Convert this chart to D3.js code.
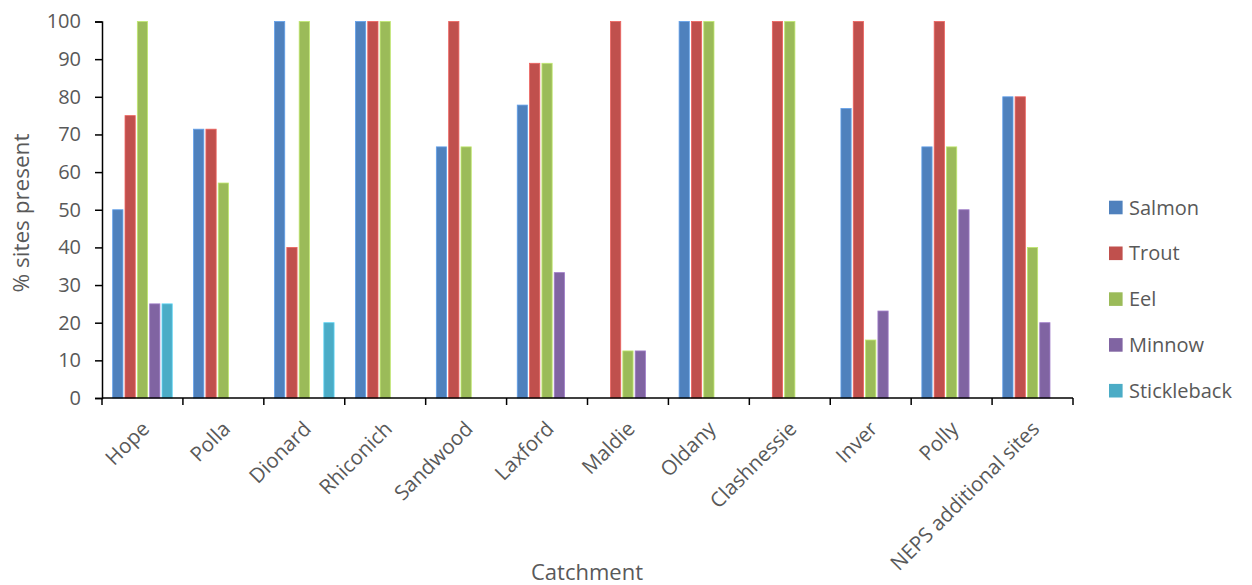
<!DOCTYPE html>
<html>
<head>
<meta charset="utf-8">
<script src="https://cdn.jsdelivr.net/npm/d3@7"></script>
<style>
  html, body { margin: 0; padding: 0; background: #fff; }
  svg { display: block; }
  text { font-family: "Open Sans", "Noto Sans", sans-serif; fill: #595959; }
</style>
</head>
<body>
<svg id="chart" width="1252" height="585"></svg>
<script>
const categories = ["Hope", "Polla", "Dionard", "Rhiconich", "Sandwood", "Laxford",
  "Maldie", "Oldany", "Clashnessie", "Inver", "Polly", "NEPS additional sites"];
const seriesNames = ["Salmon", "Trout", "Eel", "Minnow", "Stickleback"];
const salmon      = [50, 71.4, 100, 100, 66.7, 77.8, 0, 100, 0, 76.9, 66.7, 80];
const trout       = [75, 71.4, 40, 100, 100, 88.9, 100, 100, 100, 100, 100, 80];
const eel         = [100, 57.1, 100, 100, 66.7, 88.9, 12.5, 100, 100, 15.4, 66.7, 40];
const minnow      = [25, 0, 0, 0, 0, 33.3, 12.5, 0, 0, 23.1, 50, 20];
const stickleback = [25, 0, 20, 0, 0, 0, 0, 0, 0, 0, 0, 0];
const yTicks = [0, 10, 20, 30, 40, 50, 60, 70, 80, 90, 100];
const colors = ["#4F81BD", "#C0504D", "#9BBB59", "#8064A2", "#4BACC6"];

const seriesValues = [salmon, trout, eel, minnow, stickleback];
const rows = categories.map((c, i) => ({
  cat: c,
  vals: seriesNames.map((s, j) => ({ s, j, v: seriesValues[j][i] }))
}));

const svg = d3.select("#chart");
const mLeft = 102, mRight = 1073, mTop = 21.5, mBottom = 398;

const x0 = d3.scaleBand().domain(categories).range([mLeft, mRight]).padding(0);
const step = x0.step();
const x1 = d3.scaleBand().domain(seriesNames)
  .range([step * 0.132, step * 0.868]).paddingInner(0.17);
const y = d3.scaleLinear().domain([0, 100]).range([mBottom, mTop]);
const color = d3.scaleOrdinal().domain(seriesNames).range(colors);

// Bars
const g = svg.append("g");
g.selectAll("g.cat").data(rows).join("g")
  .attr("class", "cat")
  .attr("transform", d => `translate(${x0(d.cat)},0)`)
  .selectAll("rect").data(d => d.vals.filter(v => v.v > 0)).join("rect")
  .attr("x", d => x1(d.s))
  .attr("width", x1.bandwidth())
  .attr("y", d => y(d.v))
  .attr("height", d => y(0) - y(d.v))
  .attr("fill", d => color(d.s))
  .attr("stroke", d => d3.color(color(d.s)).brighter(0.6))
  .attr("stroke-width", 0.8);

// Y axis
const yAxis = d3.axisLeft(y).tickValues(yTicks).tickSize(7).tickPadding(14).tickFormat(d3.format("d"));
const gy = svg.append("g").attr("transform", `translate(${mLeft},0)`).call(yAxis);
gy.select(".domain").attr("stroke", "#000").attr("stroke-width", 1.5);
gy.selectAll(".tick line").attr("stroke", "#000").attr("stroke-width", 1.5);
gy.selectAll(".tick text").style("font-size", "20px").attr("fill", "#595959")
  .style("font-family", '"Open Sans", sans-serif');

// X axis: ticks at category boundaries
const boundaries = categories.map(c => x0(c)).concat([mRight]);
const gx = svg.append("g");
gx.append("line").attr("x1", mLeft).attr("x2", mRight).attr("y1", mBottom).attr("y2", mBottom)
  .attr("stroke", "#000").attr("stroke-width", 1.5);
gx.selectAll("line.tk").data(boundaries).join("line").attr("class", "tk")
  .attr("x1", d => d).attr("x2", d => d).attr("y1", mBottom).attr("y2", mBottom + 7)
  .attr("stroke", "#000").attr("stroke-width", 1.5);
gx.selectAll("text.lbl").data(categories).join("text").attr("class", "lbl")
  .attr("transform", d => `translate(${x0(d) + step / 2 + 3},${mBottom + 27}) rotate(-45)`)
  .attr("text-anchor", "end")
  .attr("dy", "0.35em")
  .style("font-size", "20.5px")
  .text(d => d);

// Axis titles
svg.append("text")
  .attr("x", 587).attr("y", 580)
  .attr("text-anchor", "middle")
  .style("font-size", "22px")
  .text("Catchment");
svg.append("text")
  .attr("transform", "translate(29,213) rotate(-90)")
  .attr("text-anchor", "middle")
  .style("font-size", "22.5px")
  .text("% sites present");

// Legend
const legend = svg.append("g").selectAll("g").data(seriesNames).join("g")
  .attr("transform", (d, i) => `translate(1109,${207.5 + i * 45.8})`);
legend.append("rect").attr("x", 0).attr("y", -6.8).attr("width", 13.6).attr("height", 13.6)
  .attr("fill", d => color(d));
legend.append("text").attr("x", 20).attr("dy", "0.35em")
  .style("font-size", "20px").text(d => d);
</script>
</body>
</html>
